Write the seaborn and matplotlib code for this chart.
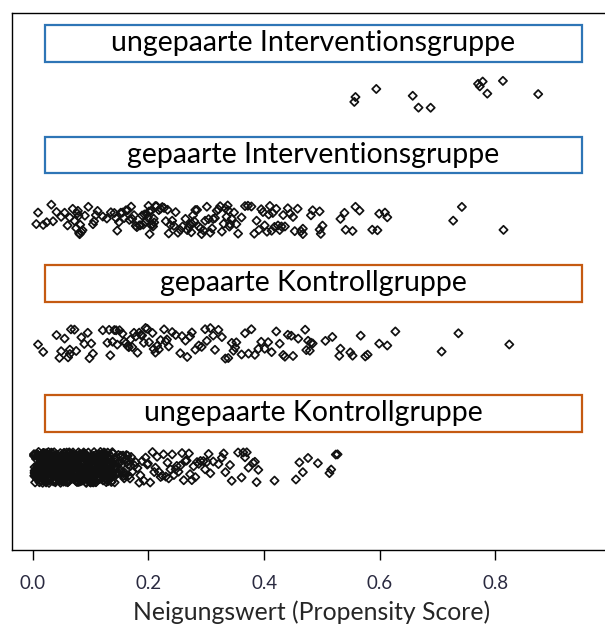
import numpy as np
import pandas as pd
import matplotlib
matplotlib.use("Agg")
import matplotlib.pyplot as plt
from matplotlib.patches import Rectangle
import seaborn as sns

# ---------------- data (propensity scores) ----------------
groups = ["ungepaarte Interventionsgruppe", "gepaarte Interventionsgruppe",
          "gepaarte Kontrollgruppe", "ungepaarte Kontrollgruppe"]
box_colors = ["#2E75B6", "#2E75B6", "#C55A11", "#C55A11"]

trt_unmatched = [0.558, 0.556, 0.594, 0.657, 0.667, 0.688, 0.770, 0.773, 0.778,
                 0.786, 0.813, 0.874]

trt_matched = [
    0.006, 0.009, 0.018, 0.024, 0.032, 0.035, 0.041, 0.049, 0.055, 0.060, 0.064, 0.069,
    0.072, 0.075, 0.077, 0.078, 0.079, 0.080, 0.081, 0.082, 0.084, 0.086, 0.090, 0.096,
    0.104, 0.106, 0.109, 0.112, 0.121, 0.128, 0.135, 0.141, 0.144, 0.146, 0.149, 0.152,
    0.155, 0.158, 0.161, 0.164, 0.167, 0.170, 0.172, 0.175, 0.178, 0.180, 0.184, 0.186,
    0.189, 0.191, 0.193, 0.195, 0.197, 0.199, 0.200, 0.201, 0.202, 0.204, 0.205, 0.207,
    0.208, 0.209, 0.210, 0.212, 0.214, 0.218, 0.221, 0.224, 0.227, 0.230, 0.233, 0.235,
    0.238, 0.241, 0.244, 0.247, 0.251, 0.255, 0.259, 0.264, 0.267, 0.270, 0.272, 0.274,
    0.275, 0.277, 0.279, 0.281, 0.284, 0.287, 0.290, 0.292, 0.295, 0.298, 0.301, 0.304,
    0.307, 0.310, 0.312, 0.315, 0.318, 0.321, 0.324, 0.327, 0.330, 0.333, 0.335, 0.337,
    0.338, 0.340, 0.341, 0.344, 0.348, 0.352, 0.355, 0.361, 0.367, 0.372, 0.378, 0.383,
    0.387, 0.391, 0.395, 0.398, 0.401, 0.405, 0.408, 0.410, 0.413, 0.415, 0.418, 0.421,
    0.424, 0.427, 0.430, 0.433, 0.436, 0.441, 0.445, 0.450, 0.453, 0.458,
    0.464, 0.467, 0.467, 0.481, 0.484, 0.496, 0.496, 0.498, 0.501, 0.532, 0.539, 0.541,
    0.553, 0.558, 0.565, 0.587, 0.596, 0.599, 0.609, 0.613,
    0.727, 0.742, 0.814]

ctrl_matched = [
    0.009, 0.018, 0.041, 0.046, 0.049, 0.055, 0.061, 0.064, 0.064, 0.066, 0.072, 0.075,
    0.084, 0.089, 0.095, 0.098, 0.101, 0.104, 0.121, 0.129, 0.132, 0.134, 0.138, 0.141,
    0.144, 0.146, 0.150, 0.155, 0.158, 0.161, 0.164, 0.166, 0.169, 0.172, 0.175, 0.178,
    0.181, 0.184, 0.187, 0.189, 0.192, 0.195, 0.198, 0.201, 0.207, 0.209, 0.212, 0.215,
    0.218, 0.221, 0.227, 0.230, 0.232, 0.235, 0.241, 0.247, 0.255, 0.258, 0.264, 0.267,
    0.272, 0.275, 0.281, 0.287, 0.292, 0.298, 0.301, 0.307, 0.312, 0.315, 0.321, 0.327,
    0.333, 0.338, 0.344, 0.347, 0.350, 0.352, 0.361, 0.367, 0.373, 0.378, 0.384, 0.390,
    0.395, 0.401, 0.407, 0.413, 0.421, 0.427, 0.433, 0.436, 0.441, 0.447, 0.450,
    0.459, 0.471, 0.473, 0.476, 0.479, 0.481, 0.484, 0.506, 0.518, 0.530, 0.532, 0.549,
    0.553, 0.567, 0.575, 0.579, 0.599, 0.613, 0.627, 0.707, 0.736, 0.824]

ctrl_unmatched = [
    0.002, 0.002, 0.003, 0.003, 0.003, 0.004, 0.004, 0.005, 0.005, 0.005, 0.006, 0.006,
    0.007, 0.007, 0.007, 0.008, 0.008, 0.009, 0.009, 0.009, 0.010, 0.010,
    0.011, 0.011, 0.011, 0.012, 0.012, 0.013, 0.013, 0.013, 0.014, 0.014, 0.015, 0.015,
    0.015, 0.016, 0.016, 0.017, 0.017, 0.017, 0.018, 0.018, 0.019, 0.019, 0.019, 0.020, 0.020,
    0.021, 0.021, 0.021, 0.022, 0.022, 0.023, 0.023, 0.023, 0.024, 0.024, 0.025, 0.025,
    0.025, 0.026, 0.026, 0.027, 0.027, 0.027, 0.028, 0.028, 0.029, 0.029, 0.029, 0.030, 0.030,
    0.031, 0.031, 0.031, 0.032, 0.032, 0.033, 0.033, 0.033, 0.034, 0.034, 0.035, 0.035,
    0.035, 0.036, 0.036, 0.037, 0.037, 0.037, 0.038, 0.038, 0.039, 0.039, 0.039, 0.040, 0.040,
    0.041, 0.041, 0.041, 0.042, 0.042, 0.043, 0.043, 0.043, 0.044, 0.044, 0.045, 0.045,
    0.045, 0.046, 0.046, 0.047, 0.047, 0.047, 0.048, 0.048, 0.049, 0.049, 0.049, 0.050, 0.050,
    0.051, 0.051, 0.051, 0.052, 0.052, 0.053, 0.053, 0.053, 0.054, 0.054, 0.055, 0.055,
    0.055, 0.056, 0.056, 0.057, 0.057, 0.057, 0.058, 0.058, 0.059, 0.059, 0.059, 0.060, 0.060,
    0.061, 0.061, 0.061, 0.062, 0.062, 0.063, 0.063, 0.063, 0.064, 0.064, 0.065, 0.065,
    0.065, 0.066, 0.066, 0.067, 0.067, 0.067, 0.068, 0.068, 0.069, 0.069, 0.069, 0.070, 0.070,
    0.071, 0.071, 0.071, 0.072, 0.072, 0.073, 0.073, 0.073, 0.074, 0.074, 0.075, 0.075,
    0.075, 0.076, 0.076, 0.077, 0.077, 0.077, 0.078, 0.078, 0.079, 0.079, 0.079, 0.080, 0.080,
    0.081, 0.081, 0.081, 0.082, 0.082, 0.083, 0.083, 0.083, 0.084, 0.084, 0.085, 0.085,
    0.085, 0.086, 0.086, 0.087, 0.087, 0.087, 0.088, 0.088, 0.089, 0.089, 0.089, 0.090, 0.090,
    0.091, 0.091, 0.091, 0.092, 0.092, 0.093, 0.093, 0.093, 0.094, 0.094, 0.095, 0.095,
    0.095, 0.096, 0.096, 0.097, 0.097, 0.097, 0.098, 0.098, 0.099, 0.099, 0.099, 0.100, 0.100,
    0.101, 0.101, 0.101, 0.102, 0.102, 0.103, 0.103, 0.103, 0.104, 0.104, 0.105, 0.105,
    0.105, 0.106, 0.106, 0.107, 0.107, 0.107, 0.108, 0.108, 0.109, 0.109, 0.109, 0.110, 0.110,
    0.111, 0.111, 0.111, 0.112, 0.112, 0.113, 0.113, 0.113, 0.114, 0.114, 0.115, 0.115,
    0.115, 0.116, 0.116, 0.117, 0.117, 0.117, 0.118, 0.118, 0.119, 0.119, 0.119, 0.120, 0.120,
    0.121, 0.121, 0.122, 0.122, 0.123, 0.123, 0.124, 0.124, 0.125, 0.125, 0.126, 0.126,
    0.127, 0.127, 0.128, 0.128, 0.129, 0.129, 0.130, 0.130, 0.131, 0.132, 0.133, 0.134, 0.135,
    0.136, 0.137, 0.138, 0.139, 0.140, 0.141, 0.142, 0.143, 0.144, 0.145, 0.146, 0.147,
    0.148, 0.149, 0.150, 0.151, 0.152, 0.153, 0.154, 0.155, 0.156, 0.157, 0.158, 0.159,
    0.160, 0.161, 0.162, 0.163, 0.164, 0.165, 0.166, 0.167, 0.168, 0.169, 0.170,
    0.172, 0.176, 0.178, 0.181, 0.184, 0.186, 0.189, 0.192, 0.195, 0.198, 0.199, 0.203,
    0.207, 0.210, 0.212, 0.215, 0.218, 0.221, 0.224, 0.226, 0.230, 0.233, 0.235, 0.238,
    0.241, 0.244, 0.247, 0.249, 0.252, 0.255, 0.258, 0.261, 0.264, 0.266, 0.270, 0.272,
    0.275, 0.278, 0.281, 0.284, 0.287, 0.290, 0.295, 0.298, 0.301, 0.304, 0.307, 0.312,
    0.321, 0.327, 0.330, 0.333, 0.341, 0.344, 0.355, 0.361, 0.364, 0.367, 0.370, 0.373,
    0.381, 0.384, 0.387, 0.390, 0.418, 0.455, 0.461, 0.467, 0.476, 0.493, 0.513, 0.516,
    0.524, 0.527]

# further unmatched controls inside the solid black block (0.00 - 0.14)
ctrl_unmatched_block = [
    0.0025, 0.0035, 0.0045, 0.0055, 0.0065, 0.0075, 0.0085, 0.0095, 0.0105, 0.0115,
    0.0125, 0.0135, 0.0145, 0.0155, 0.0165, 0.0175, 0.0185, 0.0195, 0.0205, 0.0215,
    0.0225, 0.0235, 0.0245, 0.0255, 0.0265, 0.0275, 0.0285, 0.0295, 0.0305, 0.0315,
    0.0325, 0.0335, 0.0345, 0.0355, 0.0365, 0.0375, 0.0385, 0.0395, 0.0405, 0.0415,
    0.0425, 0.0435, 0.0445, 0.0455, 0.0465, 0.0475, 0.0485, 0.0495, 0.0505, 0.0515,
    0.0525, 0.0535, 0.0545, 0.0555, 0.0565, 0.0575, 0.0585, 0.0595, 0.0605, 0.0615,
    0.0625, 0.0635, 0.0645, 0.0655, 0.0665, 0.0675, 0.0685, 0.0695, 0.0705, 0.0715,
    0.0725, 0.0735, 0.0745, 0.0755, 0.0765, 0.0775, 0.0785, 0.0795, 0.0805, 0.0815,
    0.0825, 0.0835, 0.0845, 0.0855, 0.0865, 0.0875, 0.0885, 0.0895, 0.0905, 0.0915,
    0.0925, 0.0935, 0.0945, 0.0955, 0.0965, 0.0975, 0.0985, 0.0995, 0.1005, 0.1015,
    0.1025, 0.1035, 0.1045, 0.1055, 0.1065, 0.1075, 0.1085, 0.1095, 0.1105, 0.1115,
    0.1125, 0.1135, 0.1145, 0.1155, 0.1165, 0.1175, 0.1185, 0.1195, 0.1205, 0.1215,
    0.1225, 0.1235, 0.1245, 0.1255, 0.1265, 0.1275, 0.1285, 0.1295, 0.1305, 0.1315,
    0.1325, 0.1335, 0.1345, 0.1355, 0.1365, 0.1375, 0.1385, 0.1395, 0.1415, 0.1445]

x_ticks = [0.0, 0.2, 0.4, 0.6, 0.8]
x_ticklabels = ["0.0", "0.2", "0.4", "0.6", "0.8"]
x_label = "Neigungswert (Propensity Score)"

# ---------------- build table ----------------
df = pd.concat([
    pd.DataFrame({"score": trt_unmatched, "group": groups[0]}),
    pd.DataFrame({"score": trt_matched, "group": groups[1]}),
    pd.DataFrame({"score": ctrl_matched, "group": groups[2]}),
    pd.DataFrame({"score": ctrl_unmatched + ctrl_unmatched_block, "group": groups[3]}),
], ignore_index=True)

# ---------------- figure ----------------
sns.set_style("ticks", {"axes.edgecolor": "black", "xtick.color": "black"})
plt.rcParams["font.family"] = ["Lato", "DejaVu Sans"]

W, H = 605, 627
fig = plt.figure(figsize=(W / 100, H / 100), dpi=100)
ax = fig.add_axes([12 / W, 1 - 550 / H, (W - 12) / W + 0.01, (550 - 13) / H])

np.random.seed(3)
sns.stripplot(data=df, x="score", y="group", order=groups, orient="h",
              jitter=0.125, marker="D", size=4.2, color="black",
              linewidth=1.25, edgecolor="#111111", ax=ax)
for coll in ax.collections:
    coll.set_facecolor("none")
    coll.set_edgecolor("#111111")
    coll.set_linewidth(1.25)

ax.set_xlim(-0.036, 1.0)
ax.set_ylim(3.666, -0.665)
ax.set_yticks([])
ax.set_ylabel("")
ax.set_xticks(x_ticks)
ax.set_xticklabels(x_ticklabels)
ax.tick_params(axis="x", direction="out", length=7.5, width=1.0, pad=10.5,
               labelsize=13.5, labelcolor="#2a2a40")
ax.set_xlabel(x_label, fontsize=17.8, labelpad=6)
ax.spines["right"].set_visible(False)
for s in ["left", "bottom", "top"]:
    ax.spines[s].set_linewidth(1.0)

# ---------------- group boxes ----------------
box_px = [(25, 62), (137, 173), (265, 302), (395, 432)]
x0, x1 = 45, 582
for (top, bot), label, col in zip(box_px, groups, box_colors):
    fig.add_artist(Rectangle((x0 / W, 1 - bot / H), (x1 - x0) / W, (bot - top) / H,
                             transform=fig.transFigure, fill=False,
                             edgecolor=col, linewidth=1.6))
    fig.text((x0 + x1) / 2 / W, 1 - (top + bot) / 2 / H, label,
             ha="center", va="center", fontsize=20.5, color="black")

fig.savefig("out.png", dpi=100)
